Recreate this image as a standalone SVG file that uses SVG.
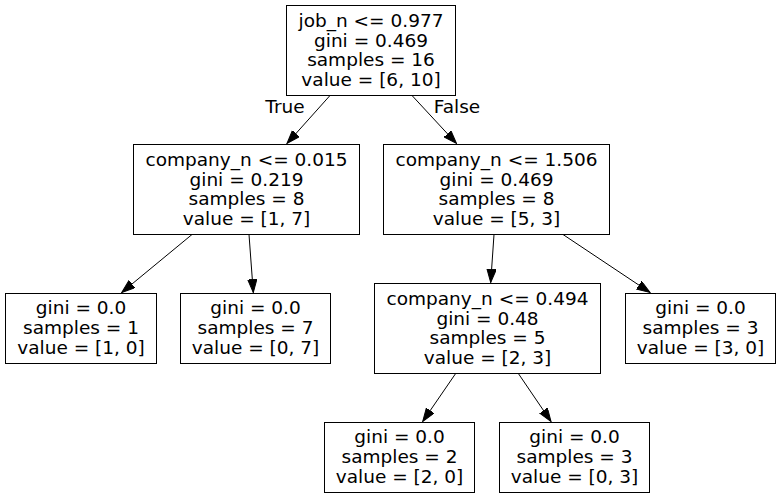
<svg xmlns="http://www.w3.org/2000/svg" width="781" height="497" viewBox="0 0 781 497">
<defs>
<style>
.box{fill:#fff;stroke:#000;stroke-width:1}
text{font-family:"DejaVu Sans","Liberation Sans",sans-serif;font-size:18.5px;fill:#000;text-anchor:middle}
.edge{stroke:#000;stroke-width:1;fill:none}
</style>
<marker id="arr" markerUnits="userSpaceOnUse" markerWidth="14" markerHeight="10" refX="13.3" refY="4.67" orient="auto" viewBox="0 0 14 10">
<path d="M0,0 L13.3,4.67 L0,9.33 Z" fill="#000" stroke="#000" stroke-width="1"/>
</marker>
</defs>
<rect width="781" height="497" fill="#fff"/>
<g id="edges">
<line class="edge" x1="330" y1="95.5" x2="287" y2="143.5" marker-end="url(#arr)"/>
<line class="edge" x1="412" y1="95.5" x2="456.5" y2="143.5" marker-end="url(#arr)"/>
<line class="edge" x1="192" y1="234.5" x2="121.7" y2="292.5" marker-end="url(#arr)"/>
<line class="edge" x1="249" y1="234.5" x2="253.3" y2="292.5" marker-end="url(#arr)"/>
<line class="edge" x1="494" y1="234.5" x2="490.7" y2="282.5" marker-end="url(#arr)"/>
<line class="edge" x1="563" y1="234.5" x2="650" y2="292.5" marker-end="url(#arr)"/>
<line class="edge" x1="456" y1="373" x2="422.7" y2="421.5" marker-end="url(#arr)"/>
<line class="edge" x1="518" y1="373" x2="551" y2="421.5" marker-end="url(#arr)"/>
<text x="285" y="113">True</text>
<text x="457" y="113">False</text>
</g>
<g id="node0">
<rect class="box" x="286.5" y="5.5" width="169" height="90"/>
<text x="371" y="27">job_n &lt;= 0.977</text>
<text x="371" y="46.5">gini = 0.469</text>
<text x="371" y="66">samples = 16</text>
<text x="371" y="86">value = [6, 10]</text>
</g>
<g id="node1">
<rect class="box" x="133.5" y="144.5" width="226" height="90"/>
<text x="246.5" y="166">company_n &lt;= 0.015</text>
<text x="246.5" y="185.5">gini = 0.219</text>
<text x="246.5" y="205">samples = 8</text>
<text x="246.5" y="225">value = [1, 7]</text>
</g>
<g id="node2">
<rect class="box" x="5.5" y="293.5" width="151" height="70"/>
<text x="81" y="314">gini = 0.0</text>
<text x="81" y="334">samples = 1</text>
<text x="81" y="354">value = [1, 0]</text>
</g>
<g id="node3">
<rect class="box" x="180.5" y="293.5" width="150" height="70"/>
<text x="255.5" y="314">gini = 0.0</text>
<text x="255.5" y="334">samples = 7</text>
<text x="255.5" y="354">value = [0, 7]</text>
</g>
<g id="node4">
<rect class="box" x="383.5" y="144.5" width="226" height="90"/>
<text x="496.5" y="166">company_n &lt;= 1.506</text>
<text x="496.5" y="185.5">gini = 0.469</text>
<text x="496.5" y="205">samples = 8</text>
<text x="496.5" y="225">value = [5, 3]</text>
</g>
<g id="node5">
<rect class="box" x="374.5" y="283.5" width="226" height="90"/>
<text x="487.5" y="305">company_n &lt;= 0.494</text>
<text x="487.5" y="324.5">gini = 0.48</text>
<text x="487.5" y="344">samples = 5</text>
<text x="487.5" y="364">value = [2, 3]</text>
</g>
<g id="node6">
<rect class="box" x="324.5" y="422.5" width="150" height="70"/>
<text x="399.5" y="443">gini = 0.0</text>
<text x="399.5" y="463">samples = 2</text>
<text x="399.5" y="483">value = [2, 0]</text>
</g>
<g id="node7">
<rect class="box" x="499.5" y="422.5" width="150" height="70"/>
<text x="574.5" y="443">gini = 0.0</text>
<text x="574.5" y="463">samples = 3</text>
<text x="574.5" y="483">value = [0, 3]</text>
</g>
<g id="node8">
<rect class="box" x="625.5" y="293.5" width="150" height="70"/>
<text x="700.5" y="314">gini = 0.0</text>
<text x="700.5" y="334">samples = 3</text>
<text x="700.5" y="354">value = [3, 0]</text>
</g>
</svg>
